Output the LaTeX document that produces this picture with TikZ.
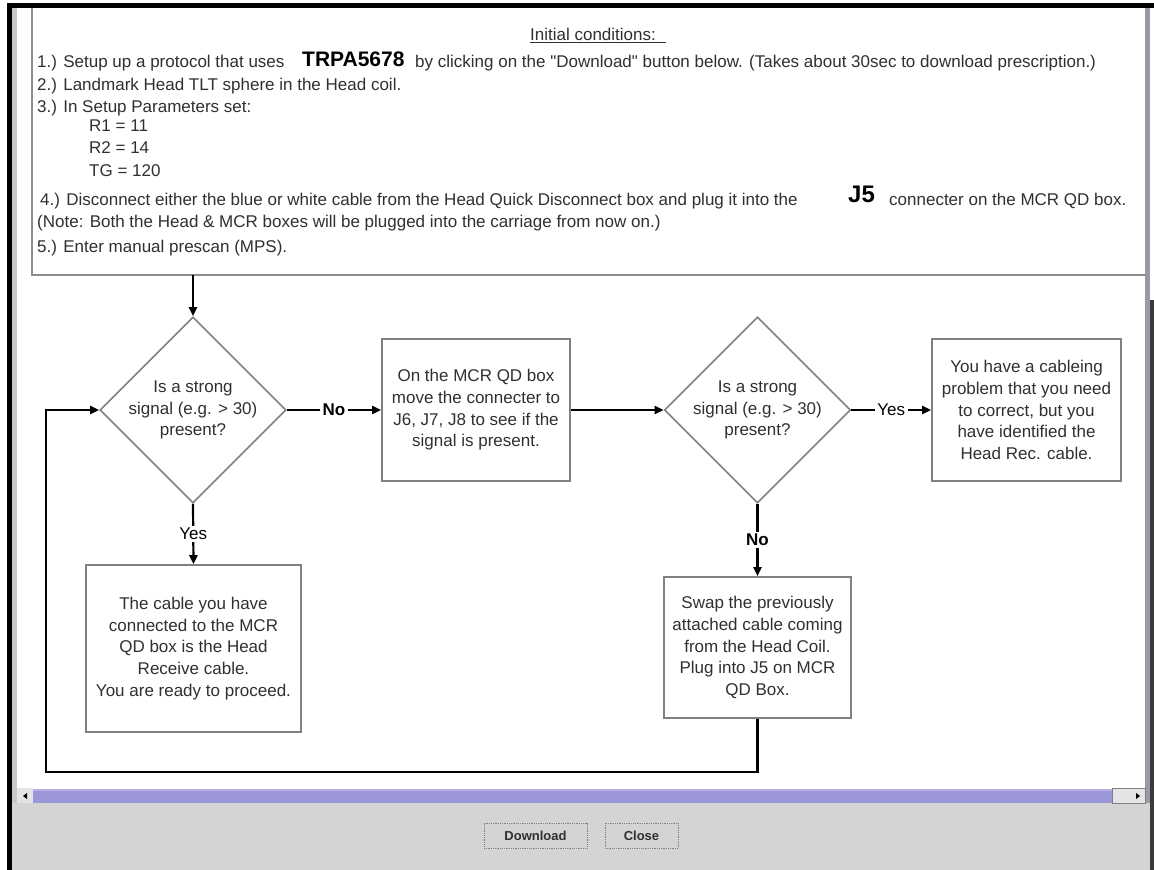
\documentclass[tikz,border=0pt]{standalone}
\usepackage{fontspec}
\setmainfont{Liberation Sans}
\usetikzlibrary{arrows.meta,shapes.geometric}
\definecolor{txtc}{HTML}{303030}
\definecolor{boxc}{HTML}{808080}
\definecolor{panelc}{HTML}{8C8C8C}
\definecolor{dlgc}{HTML}{D4D4D4}
\definecolor{barc}{HTML}{9C97D8}
\definecolor{barhi}{HTML}{B4B0E6}
\definecolor{btnc}{HTML}{E4E4E4}
\definecolor{stripc}{HTML}{C8C8C8}
\definecolor{rstripc}{HTML}{9A9AA6}
\definecolor{rdark}{HTML}{3A3A3A}
\begin{document}
\begin{tikzpicture}[x=1pt,y=-1pt,
  txt/.style={font=\fontsize{17}{21.7}\selectfont, text=txtc, inner sep=0pt},
  pline/.style={txt, anchor=mid west},
  boxn/.style={draw=boxc, line width=1.6pt, rectangle, inner sep=0pt, align=center, txt},
  diam/.style={draw=boxc, line width=1.6pt, diamond, inner sep=0pt, minimum width=186pt, minimum height=186pt},
  dtext/.style={txt, align=center},
  conn/.style={draw=black, line width=2.2pt, -{Triangle[length=9pt,width=8pt]}},
  lbl/.style={txt, text=black, fill=white, inner sep=2.5pt},
  btn/.style={draw=boxc, densely dotted, line width=0.8pt, fill=dlgc, font=\fontsize{13}{15}\bfseries\selectfont, text=txtc, inner sep=0pt},
]
\useasboundingbox (0,0) rectangle (1154,870);
\fill[white] (0,0) rectangle (1154,870);

% window frame
\fill[dlgc] (12,803) rectangle (1150,870);
\fill[black] (7,3) rectangle (1154,8);
\fill[black] (7,3) rectangle (12,870);
\fill[stripc] (12,8) rectangle (17,803);
\fill[rstripc] (1145,8) rectangle (1150,803);
\fill[rdark] (1150,300) rectangle (1154,870);

% text panel
\draw[panelc, line width=2pt] (32,8) -- (32,275) -- (1146,275);
\node[pline] (t0) at (530,38) {\underline{Initial conditions:\hspace{10pt}}};
\node[pline] (t1a) at (37,65) {1.) Setup up a protocol that uses};
\node[pline, font=\fontsize{21}{24}\bfseries\selectfont, text=black] (t1b) at (302,64) {TRPA5678};
\node[pline] (t1c) at (415,65) {by clicking on the \textquotedbl Download\textquotedbl{} button below.  (Takes about 30sec to download prescription.)};
\node[pline] (t2) at (37,88) {2.) Landmark Head TLT sphere in the Head coil.};
\node[pline] (t3) at (37,110) {3.) In Setup Parameters set:};
\node[pline] (t3a) at (89,129) {R1 = 11};
\node[pline] (t3b) at (89,151) {R2 = 14};
\node[pline] (t3c) at (89,174) {TG = 120};
\node[pline] (t4a) at (40,203) {4.) Disconnect either the blue or white cable from the Head Quick Disconnect box  and plug it into the};
\node[pline, font=\fontsize{24}{26}\bfseries\selectfont, text=black] (t4b) at (848,200) {J5};
\node[pline] (t4c) at (889,203) {connecter on the MCR QD  box.};
\node[pline] (t4d) at (37,225) {(Note: Both the Head \& MCR boxes will be plugged into the carriage from now on.)};
\node[pline] (t5) at (37,250) {5.) Enter manual prescan (MPS).};

% flowchart nodes
\node[diam] (d1) at (193,410) {};
\node[dtext] (d1t) at (d1.center) {Is a strong\\signal (e.g. > 30)\\present?};
\node[boxn, minimum width=188pt, minimum height=142pt] (b2) at (476,410) {On the MCR QD box\\move the connecter to\\J6, J7, J8 to see if the\\signal is present.};
\node[diam] (d2) at (757.5,410) {};
\node[dtext] (d2t) at (d2.center) {Is a strong\\signal (e.g. > 30)\\present?};
\node[boxn, minimum width=189pt, minimum height=142pt] (b3) at (1026.5,410) {You have a cableing\\problem that you need\\to correct, but you\\have identified the\\Head Rec. cable.};
\node[boxn, minimum width=215pt, minimum height=167pt] (b1) at (193.5,648.5) {The cable you have\\connected to the MCR\\QD box is  the Head\\Receive cable.\\You are ready to proceed.};
\node[boxn, minimum width=187pt, minimum height=141pt] (b4) at (757.5,647.5) {Swap the previously\\attached cable coming\\from the Head Coil.\\Plug into J5 on MCR\\QD Box.};

% connectors
\coordinate (pb) at (193,275);
\coordinate (lc) at (46,772);
\draw[conn] (pb) -- (d1.north);
\draw[conn] (d1.east) -- node[lbl, font=\fontsize{17}{20}\bfseries\selectfont] (lno1) {No} (b2.west);
\draw[conn] (b2.east) -- (d2.west);
\draw[conn] (d2.east) -- node[lbl] (lyes2) {Yes} (b3.west);
\draw[conn] (d1.south) -- node[lbl] (lyes1) {Yes} (b1.north);
\draw[conn] (d2.south) -- node[lbl, font=\fontsize{17}{20}\bfseries\selectfont] (lno2) {No} (b4.north);
\draw[conn] (b4.south) |- (lc) |- (d1.west);

% scrollbar
\fill[btnc] (17,788) rectangle (33,803);
\fill[barc] (33,789) rectangle (1112,803);
\fill[barhi] (33,789) rectangle (1112,791);
\fill[btnc] (1112,788) rectangle (1145,803);
\draw[boxc, line width=0.6pt] (1112,788) rectangle (1145,803);
\fill[black] (23,796) -- (27,793) -- (27,799) -- cycle;
\fill[black] (1140,796) -- (1136,793) -- (1136,799) -- cycle;

% buttons
\node[btn, minimum width=103pt, minimum height=25pt] (bdl) at (535.5,835.5) {Download};
\node[btn, minimum width=73pt, minimum height=25pt] (bcl) at (641.5,835.5) {Close};
\end{tikzpicture}
\end{document}
